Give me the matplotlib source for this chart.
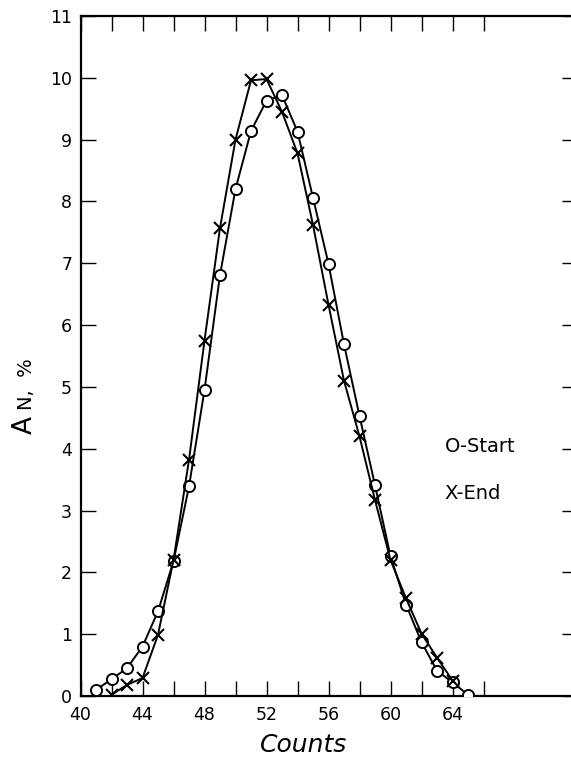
import numpy as np
import matplotlib
matplotlib.use("Agg")
import matplotlib.pyplot as plt

# Start run (open circles)
start_counts = [41, 42, 43, 44, 45, 46, 47, 48, 49, 50, 51, 52, 53,
                54, 55, 56, 57, 58, 59, 60, 61, 62, 63, 64, 65]
start_an = [0.10, 0.27, 0.45, 0.80, 1.37, 2.18, 3.39, 4.95, 6.81, 8.20, 9.14, 9.63, 9.72,
            9.13, 8.06, 6.99, 5.69, 4.53, 3.41, 2.26, 1.48, 0.87, 0.41, 0.22, 0.02]

# End run (crosses)
end_counts = [42, 43, 44, 45, 46, 47, 48, 49, 50, 51, 52, 53,
              54, 55, 56, 57, 58, 59, 60, 61, 62, 63, 64]
end_an = [0.02, 0.18, 0.29, 0.99, 2.20, 3.82, 5.75, 7.57, 9.00, 9.96, 9.98, 9.45,
          8.78, 7.62, 6.33, 5.10, 4.20, 3.17, 2.20, 1.58, 1.01, 0.62, 0.25]

x_ticks = list(range(40, 67, 2))
x_labels = [str(t) if t % 4 == 0 and t <= 64 else '' for t in x_ticks]
y_ticks = list(range(0, 12))

W, H = 571, 757
fig = plt.figure(figsize=(W / 100, H / 100), dpi=100)
ax = fig.add_axes([80.5 / W, 61 / H, 496 / W, 680 / H])

ax.plot(start_counts, start_an, color='black', lw=1.4, marker='o', ms=8,
        mfc='white', mec='black', mew=1.4, zorder=3)
ax.plot(end_counts, end_an, color='black', lw=1.4, marker='x', ms=9,
        mec='black', mew=1.5, zorder=4)

ax.set_xlim(40, 72)
ax.set_ylim(0, 11)
ax.set_xticks(x_ticks)
ax.set_xticklabels(x_labels)
ax.set_yticks(y_ticks)
ax.set_yticklabels([str(t) for t in y_ticks])

ax.tick_params(axis='both', direction='in', length=10.5, width=1.0,
               top=True, right=True, labelsize=12.5, color='black')
ax.tick_params(axis='x', pad=7)
ax.tick_params(axis='y', pad=6)

for side in ['left', 'bottom', 'top', 'right']:
    ax.spines[side].set_linewidth(1.6)

# inline key
ax.text(63.5, 4.03, 'O-Start', fontsize=14, ha='left', va='center')
ax.text(63.5, 3.28, 'X-End', fontsize=14, ha='left', va='center')

# axis titles placed where they sit in the original
fig.text(304 / W, 1 - 745 / H, 'Counts', fontsize=18, style='italic',
         ha='center', va='center')
fig.text(32 / W, 1 - 425 / H, 'A', fontsize=19, rotation=90,
         rotation_mode='anchor', ha='center', va='baseline')
fig.text(32 / W, 1 - 384 / H, 'N,  %', fontsize=14, rotation=90,
         rotation_mode='anchor', ha='center', va='baseline')

fig.savefig('out.png', dpi=100)
